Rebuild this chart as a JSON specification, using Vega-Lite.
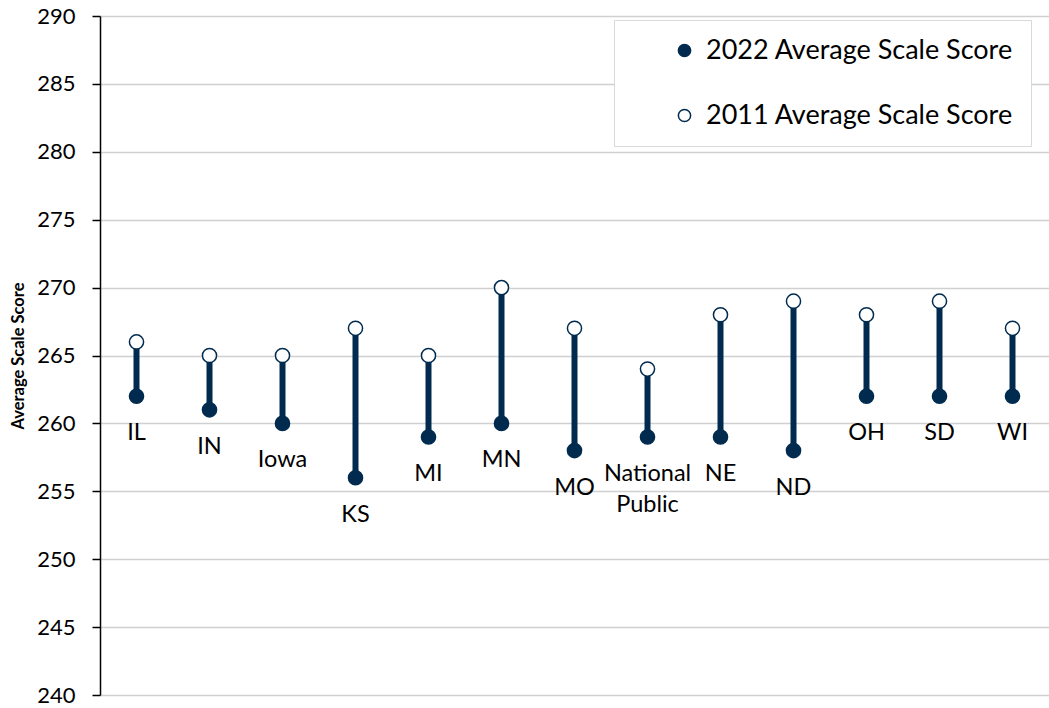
{
  "$schema": "https://vega.github.io/schema/vega-lite/v6.json",
  "width": 949,
  "height": 679,
  "autosize": {"type": "none"},
  "padding": {"left": 100, "top": 16, "right": 0, "bottom": 13},
  "background": "white",
  "config": {"view": {"stroke": null}, "font": "Lato"},
  "data": {
    "values": [
      {"state": "IL", "2022 Average Scale Score": 262, "2011 Average Scale Score": 266},
      {"state": "IN", "2022 Average Scale Score": 261, "2011 Average Scale Score": 265},
      {"state": "Iowa", "2022 Average Scale Score": 260, "2011 Average Scale Score": 265},
      {"state": "KS", "2022 Average Scale Score": 256, "2011 Average Scale Score": 267},
      {"state": "MI", "2022 Average Scale Score": 259, "2011 Average Scale Score": 265},
      {"state": "MN", "2022 Average Scale Score": 260, "2011 Average Scale Score": 270},
      {"state": "MO", "2022 Average Scale Score": 258, "2011 Average Scale Score": 267},
      {"state": "National\nPublic", "2022 Average Scale Score": 259, "2011 Average Scale Score": 264},
      {"state": "NE", "2022 Average Scale Score": 259, "2011 Average Scale Score": 268},
      {"state": "ND", "2022 Average Scale Score": 258, "2011 Average Scale Score": 269},
      {"state": "OH", "2022 Average Scale Score": 262, "2011 Average Scale Score": 268},
      {"state": "SD", "2022 Average Scale Score": 262, "2011 Average Scale Score": 269},
      {"state": "WI", "2022 Average Scale Score": 262, "2011 Average Scale Score": 267}
    ]
  },
  "encoding": {
    "x": {"field": "state", "type": "nominal", "sort": null, "axis": null, "scale": {"type": "band", "paddingInner": 0, "paddingOuter": 0}}
  },
  "layer": [
    {
      "mark": {"type": "rule", "strokeWidth": 6, "color": "#002b4f"},
      "encoding": {
        "y": {"field": "2022 Average Scale Score", "type": "quantitative", "scale": {"domain": [240, 290], "nice": false, "zero": false},
          "axis": {"values": [240, 245, 250, 255, 260, 265, 270, 275, 280, 285, 290], "title": "Average Scale Score", "titleFontSize": 16.5, "titleFontWeight": "bold", "titleColor": "black", "titlePadding": 10, "labelFontSize": 22, "labelColor": "black", "labelPadding": 17, "tickSize": 8, "tickColor": "black", "tickWidth": 1.5, "domainColor": "black", "domainWidth": 1.5, "gridColor": "#d0d0d0", "gridWidth": 1.5}},
        "y2": {"field": "2011 Average Scale Score"}
      }
    },
    {
      "transform": [{"fold": ["2022 Average Scale Score", "2011 Average Scale Score"], "as": ["series", "score"]}],
      "mark": {"type": "point", "filled": true, "size": 200, "stroke": "#002b4f", "strokeWidth": 1.5, "opacity": 1, "shape": "circle"},
      "encoding": {
        "y": {"field": "score", "type": "quantitative"},
        "fill": {"field": "series", "type": "nominal", "scale": {"domain": ["2022 Average Scale Score", "2011 Average Scale Score"], "range": ["#002b4f", "white"]},
          "legend": {"title": null, "orient": "none", "legendX": 514, "legendY": 4, "fillColor": "white", "strokeColor": "#d9d9d9", "padding": 17, "labelFont": "Lato", "labelFontSize": 27, "labelColor": "black", "labelLimit": 500, "labelExpr": "datum.label + '        '", "symbolSize": 150, "symbolType": "circle", "symbolStrokeColor": "#002b4f", "symbolStrokeWidth": 1.5, "rowPadding": 37, "symbolOffset": 40, "labelOffset": 8}}
      }
    },
    {
      "mark": {"type": "text", "baseline": "top", "dy": 25, "fontSize": 23.5, "lineHeight": 31, "lineBreak": "\n", "color": "black"},
      "encoding": {
        "y": {"field": "2022 Average Scale Score", "type": "quantitative"},
        "text": {"field": "state"}
      }
    }
  ]
}
